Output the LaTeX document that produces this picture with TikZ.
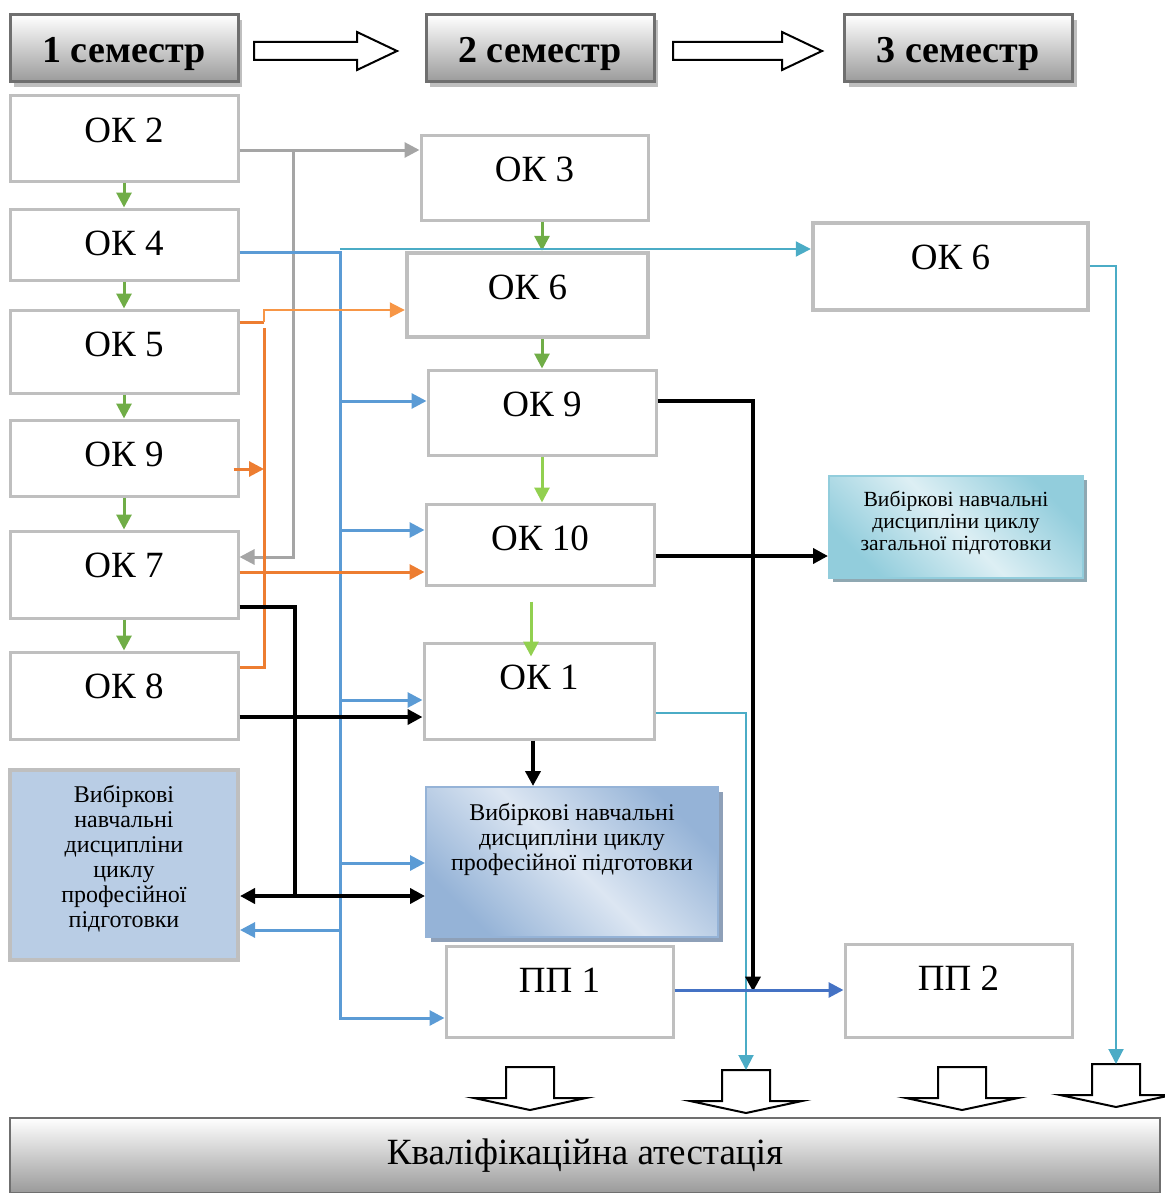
\documentclass[tikz,border=0pt]{standalone}
\usepackage{fontspec}
\setmainfont{Liberation Serif}
\usetikzlibrary{arrows.meta,positioning,calc,shadows}

\definecolor{boxgray}{HTML}{BFBFBF}
\definecolor{headline}{HTML}{6F6F6F}
\definecolor{headdark}{HTML}{9A9A9A}
\definecolor{okgreen}{HTML}{70AD47}
\definecolor{litegreen}{HTML}{92D050}
\definecolor{linegray}{HTML}{A5A5A5}
\definecolor{lineblue}{HTML}{5B9BD5}
\definecolor{linecyan}{HTML}{4BACC6}
\definecolor{lineorange}{HTML}{ED7D31}
\definecolor{liteorange}{HTML}{F79646}
\definecolor{darkblue}{HTML}{4472C4}
\definecolor{leftfill}{HTML}{B9CDE5}
\definecolor{profdark}{HTML}{95B3D7}
\definecolor{proflight}{HTML}{DCE6F2}
\definecolor{profshadow}{HTML}{8EA0B8}
\definecolor{zagdark}{HTML}{92CDDC}
\definecolor{zaglight}{HTML}{DDEFF4}
\definecolor{zagshadow}{HTML}{8FA8B2}

\newcommand{\okfont}{\fontsize{18.5}{22}\selectfont}
\newcommand{\semfont}{\fontsize{19}{22}\selectfont\bfseries}
\newcommand{\vibfont}{\fontsize{12}{12.5}\selectfont}
\newcommand{\zagfont}{\fontsize{10.8}{11}\selectfont}

% hollow block arrows
\newcommand{\hollowright}[2]{%
  \draw[hollow] (#1,42) -- (#2-40,42) -- (#2-40,32) -- (#2,51)
    -- (#2-40,70) -- (#2-40,60) -- (#1,60) -- cycle;}
\newcommand{\hollowdown}[3]{%
  \draw[hollow] (#1-24,#2) -- (#1+24,#2) -- (#1+24,#2+31) -- (#1+56,#2+31)
    -- (#1,#2+43) -- (#1-56,#2+31) -- (#1-24,#2+31) -- cycle;
  \coordinate (#3) at (#1,#2);}

\begin{document}
\begin{tikzpicture}[
    x=0.5pt, y=-0.5pt,
    okbox/.style={draw=boxgray, line width=1.5pt, fill=white, inner sep=0pt,
                  minimum width=114pt, font=\okfont,
                  text height=23.25pt, text depth=#1-23.25pt},
    sembox/.style={draw=headline, line width=1.5pt, top color=white,
                   bottom color=headdark, minimum width=114pt,
                   minimum height=33.5pt, font=\semfont,
                   text height=15pt, text depth=0.7pt,
                   drop shadow={shadow xshift=2pt, shadow yshift=-2.5pt,
                                fill=boxgray, opacity=1}},
    leftvib/.style={draw=boxgray, line width=2pt, fill=leftfill,
                    minimum width=114pt, minimum height=95pt,
                    align=center, font=\vibfont},
    profbox/.style={draw=profdark, line width=1pt, top color=profdark,
                    bottom color=profdark, middle color=proflight,
                    shading angle=135, minimum width=146pt, minimum height=75pt,
                    drop shadow={shadow xshift=2.5pt, shadow yshift=-2.5pt,
                                 fill=profshadow, opacity=1}},
    zagbox/.style={draw=zagdark, line width=1pt, top color=zagdark,
                   bottom color=zagdark, middle color=zaglight,
                   shading angle=135, minimum width=127pt, minimum height=51pt,
                   align=center, font=\zagfont,
                   drop shadow={shadow xshift=2pt, shadow yshift=-2pt,
                                fill=zagshadow, opacity=1}},
    vibtext/.style={align=center, inner sep=0pt, font=\vibfont},
    atestbox/.style={draw=headline, line width=1pt, top color=white,
                     bottom color=headdark, minimum width=575pt,
                     minimum height=37.5pt, font=\okfont},
    hollow/.style={draw=black, line width=1pt, fill=white},
    tip/.style={-{Triangle[length=7.5pt,width=7.5pt]}},
    greenarr/.style={tip, okgreen, line width=1.5pt},
    litearr/.style={tip, litegreen, line width=1.5pt},
    grayarr/.style={tip, linegray, line width=1.5pt},
    bluearr/.style={tip, lineblue, line width=1.5pt},
    cyanarr/.style={tip, linecyan, line width=1pt},
    orangeline/.style={lineorange, line width=1.5pt},
    orangethin/.style={tip, liteorange, line width=1pt},
    orangearr/.style={tip, lineorange, line width=1.5pt},
    blackline/.style={black, line width=2pt},
    blackarr/.style={tip, black, line width=2pt},
    blackboth/.style={{Triangle[length=7.5pt,width=7.5pt]}-{Triangle[length=7.5pt,width=7.5pt]},
                      black, line width=2pt},
    dblarr/.style={tip, darkblue, line width=1.5pt}
  ]
    \useasboundingbox (0,0) rectangle (1164,1193);

    % semesters
    \node[sembox] (sem1) at (124,48.5) {1 семестр};
    \node[sembox] (sem2) at (540,48.5) {2 семестр};
    \node[sembox] (sem3) at (958.5,48.5) {3 семестр};
    \hollowright{254}{397}
    \hollowright{673}{822}

    % 1 semester
    \node[okbox=42.5pt] (ok2) at (124,138.5) {ОК 2};
    \node[okbox=35.5pt] (ok4) at (124,244.5) {ОК 4};
    \node[okbox=41.5pt] (ok5) at (124,351.5) {ОК 5};
    \node[okbox=38pt] (ok9a) at (124,458) {ОК 9};
    \node[okbox=43.5pt] (ok7) at (124,574.5) {ОК 7};
    \node[okbox=43.5pt] (ok8) at (124,695.5) {ОК 8};
    \node[leftvib, text depth=8.6pt] (vibA) at (124,865)
      {Вибіркові\\навчальні\\дисципліни\\циклу\\професійної\\підготовки};

    % 2 semester
    \node[okbox=42.5pt, minimum width=113.5pt] (ok3) at (534.5,177.5) {ОК 3};
    \node[okbox=42pt, minimum width=120.5pt, line width=2.2pt] (ok6a) at (527.5,295) {ОК 6};
    \node[okbox=42.5pt] (ok9b) at (542,412.5) {ОК 9};
    \node[okbox=40.5pt] (ok10) at (540,544.5) {ОК 10};
    \node[okbox=48pt, minimum width=115pt] (ok1) at (539,691) {ОК 1};
    \node[profbox] (vibB) at (572,862) {};
    \node[vibtext, below=8.5pt of vibB.north] (vibBtext)
      {Вибіркові навчальні\\дисципліни циклу\\професійної підготовки};
    \node[okbox=45.5pt, minimum width=113.5pt] (pp1) at (559.5,991.5) {ПП 1};

    % 3 semester
    \node[okbox=43.5pt, minimum width=137.5pt, line width=2.2pt] (ok6b) at (950.5,266.5) {ОК 6};
    \node[zagbox, text depth=6.5pt] (vibC) at (956,527)
      {Вибіркові навчальні\\дисципліни циклу\\загальної підготовки};
    \node[okbox=46.5pt, minimum width=113.5pt] (pp2) at (958.5,990.5) {ПП 2};

    % attestation
    \node[atestbox] (atest) at (585,1155.5) {Кваліфікаційна атестація};
    \hollowdown{530}{1067}{q1}
    \hollowdown{746}{1070}{q2}
    \hollowdown{962}{1067}{q3}
    \hollowdown{1116}{1064}{q4}

    % green chain
    \draw[greenarr] (ok2) -- (ok4);
    \draw[greenarr] (ok4) -- (ok5);
    \draw[greenarr] (ok5) -- (ok9a);
    \draw[greenarr] (ok9a) -- (ok7);
    \draw[greenarr] (ok7) -- (ok8);
    \draw[greenarr] (ok3.south -| ok9b) -- (ok6a.north -| ok9b);
    \draw[greenarr] (ok6a.south -| ok9b) -- (ok9b.north);
    \draw[litearr] (ok9b.south) -- (ok9b.south |- ok10.north);
    \draw[litearr] ([shift={(-9,15)}]ok10.south) -- ([shift={(-9,15)}]ok10.south |- ok1.north);

    % gray
    \coordinate (gj) at (293,150);
    \draw[grayarr] (ok2.east |- gj) -- (ok3.west |- gj);
    \draw[grayarr] (gj) |- (ok7.east |- 0,557);

    % blue trunk
    \coordinate (bt) at (340,252);
    \coordinate (bb) at (340,1018);
    \draw[bluearr] (ok4.east |- bt) -- (bt) -- (bb) -- (pp1.west |- bb);
    \draw[bluearr] (bt |- 0,401) -- (ok9b.west |- 0,401);
    \draw[bluearr] (bt |- 0,530) -- (ok10.west |- 0,530);
    \draw[bluearr] (bt |- 0,700) -- (ok1.west |- 0,700);
    \draw[bluearr] (bt |- 0,863) -- (vibB.west |- 0,863);
    \draw[bluearr] (bt |- 0,930) -- (vibA.east |- 0,930);

    % cyan
    \draw[cyanarr] (bt |- 0,249) -- (ok6b.west |- 0,249);
    \draw[cyanarr] (ok6b.east |- 0,266) -| (q4);
    \draw[cyanarr] (ok1.east |- 0,713) -| (q2);

    % orange
    \coordinate (oj) at (264,322);
    \draw[orangeline] (ok5.east |- oj) -- (oj);
    \draw[orangethin] (oj) |- (ok6a.west |- 0,310);
    \draw[orangeline] ([yshift=-3pt]oj) |- (ok8.east |- 0,667);
    \draw[orangearr] ($(ok9a.east |- 0,469)+(-6,0)$) -- (oj |- 0,469);
    \draw[orangearr] (ok7.east |- 0,572) -- (ok10.west |- 0,572);

    % black
    \coordinate (kj) at (295,896);
    \draw[blackarr] (ok9b.east |- 0,401) -| (pp1.east -| 753,0);
    \draw[blackarr] (ok10.east |- 0,556) -- (vibC.west |- 0,556);
    \draw[blackline] (ok7.east |- 0,607) -| (kj);
    \draw[blackboth] (vibA.east |- kj) -- (vibB.west |- kj);
    \draw[blackarr] (ok8.east |- 0,717) -- (ok1.west |- 0,717);
    \draw[blackarr] ([xshift=-3pt]ok1.south) -- ([xshift=-3pt]ok1.south |- vibB.north);

    % practice
    \draw[dblarr] (pp1.east |- 0,990) -- (pp2.west |- 0,990);
  \end{tikzpicture}
\end{document}
